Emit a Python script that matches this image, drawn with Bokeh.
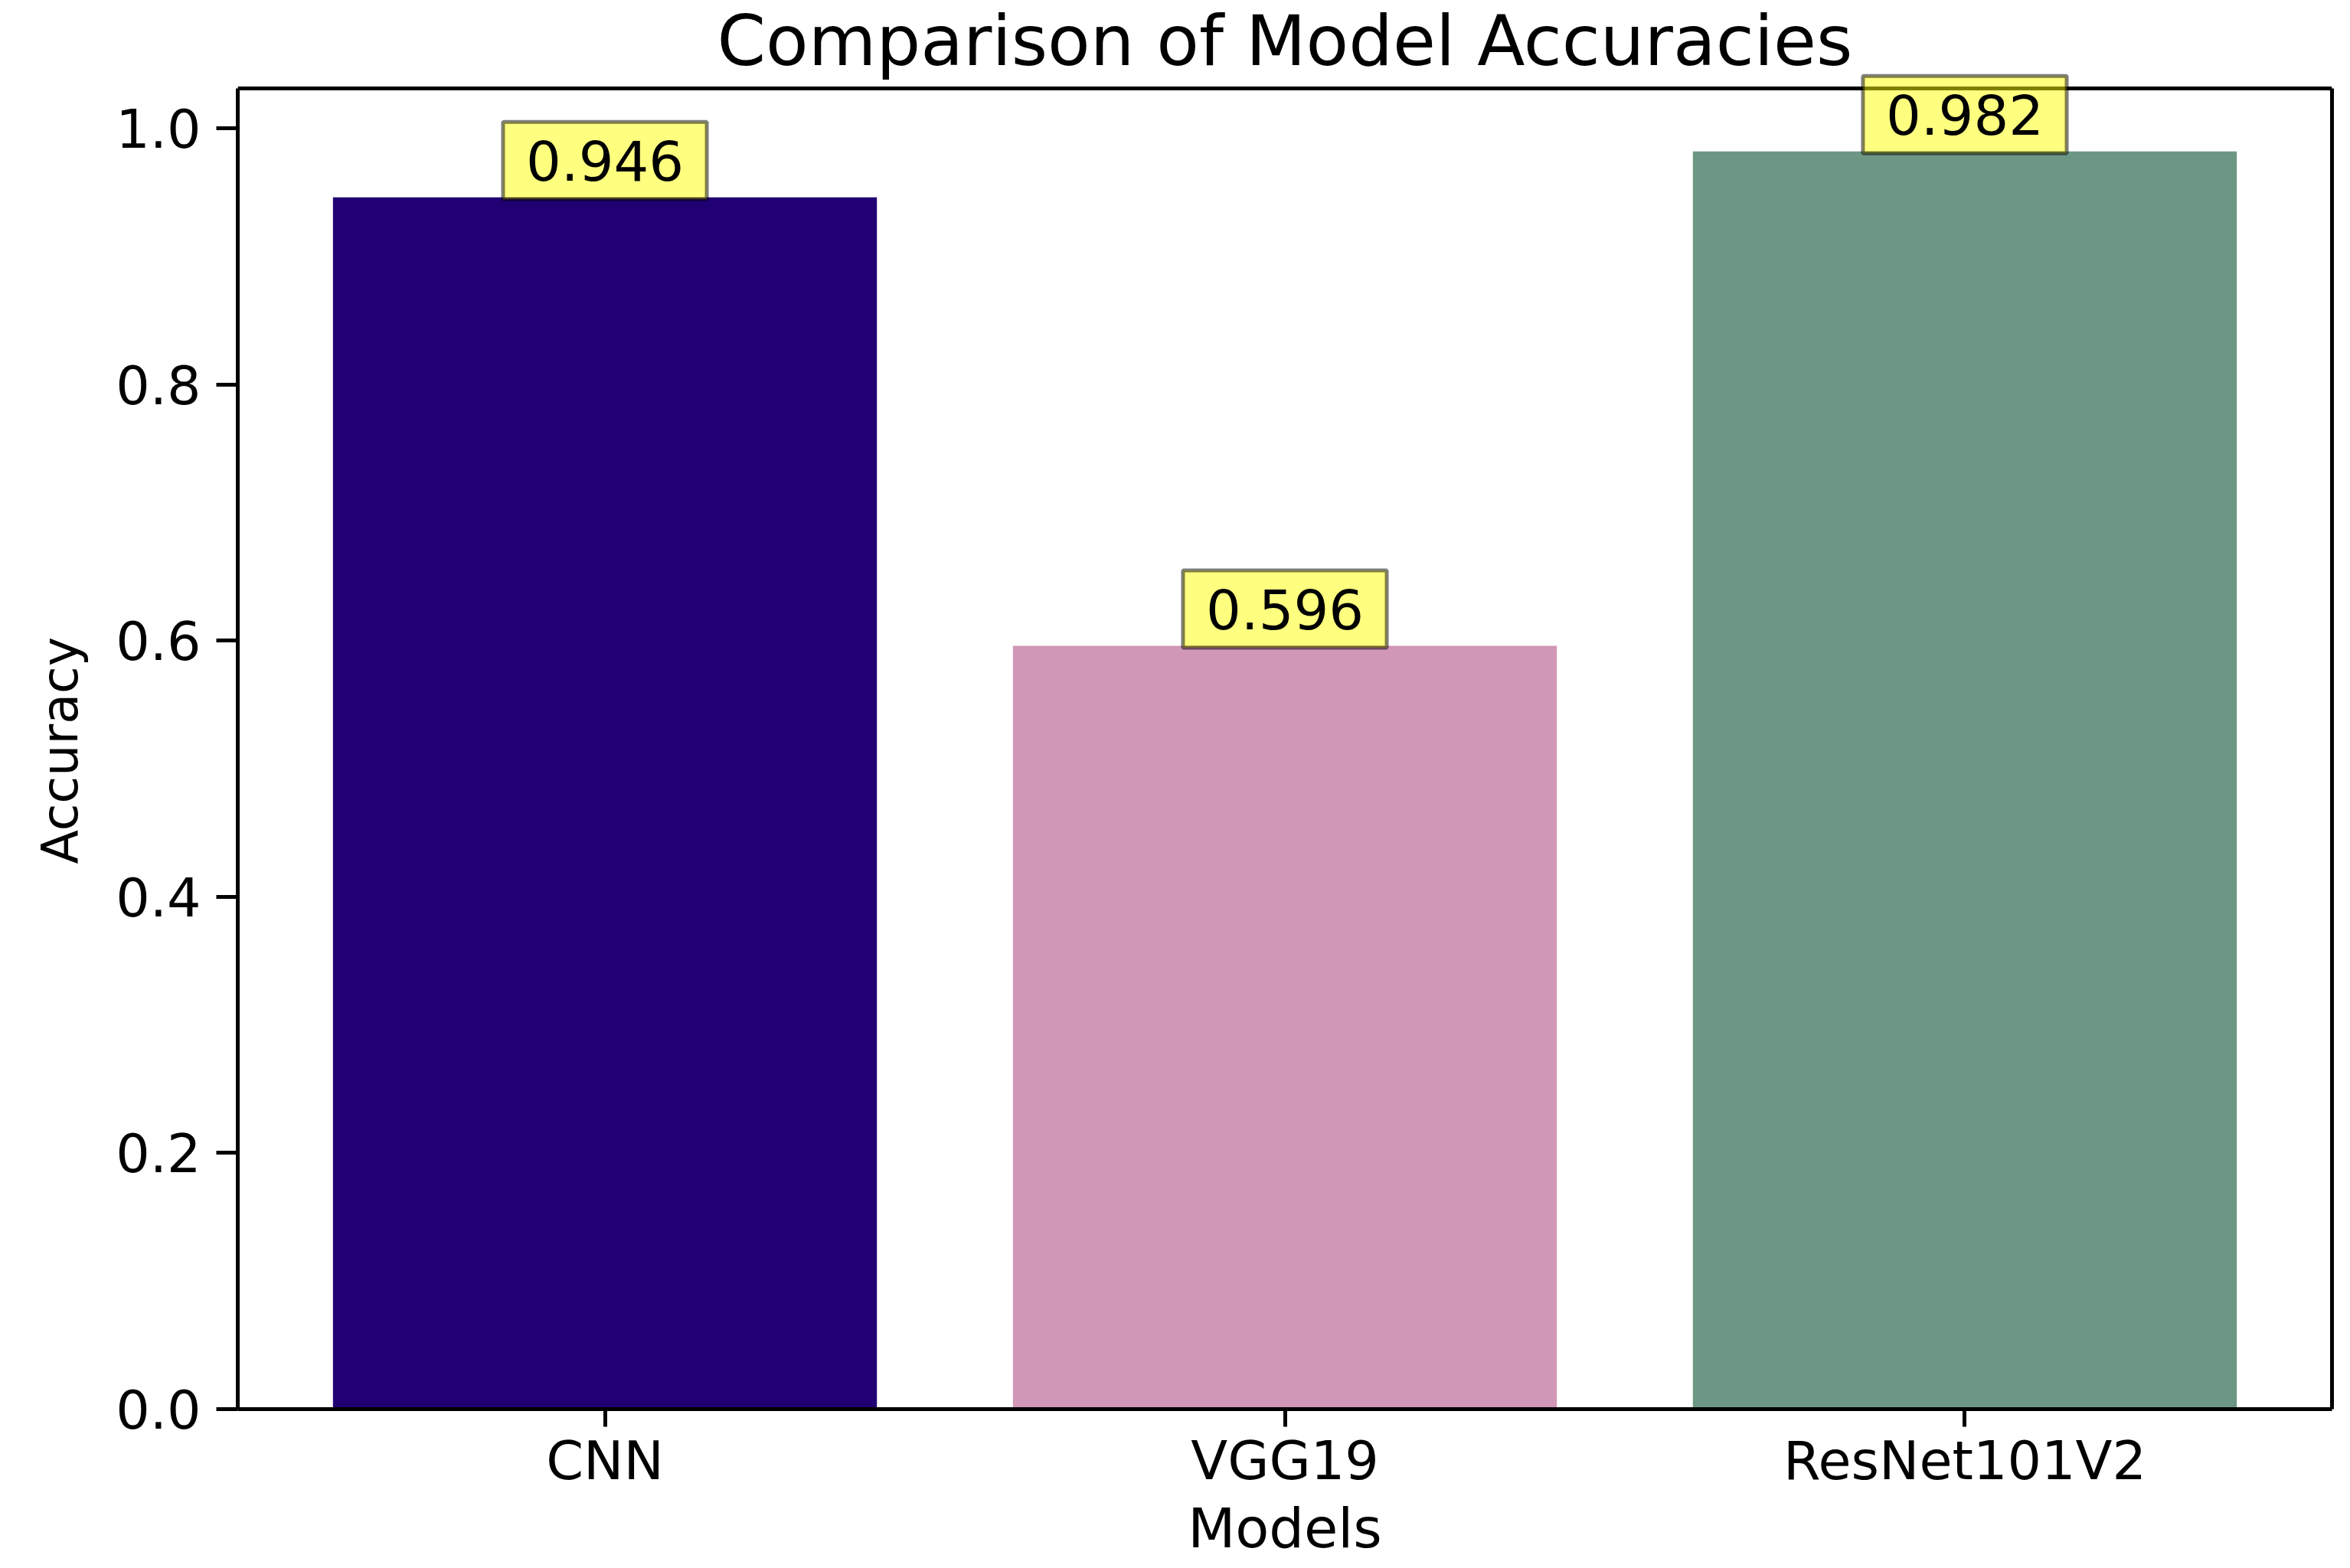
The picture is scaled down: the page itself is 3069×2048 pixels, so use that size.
from bokeh.plotting import figure
from bokeh.models import Range1d, FixedTicker, NumeralTickFormatter, Label, LinearAxis, Span, Title
from bokeh.embed import file_html
from bokeh.resources import INLINE

# ---- data ----
models = ["CNN", "VGG19", "ResNet101V2"]
accuracies = [0.946, 0.596, 0.982]
bar_colors = ["#200072", "#d197b6", "#6d9785"]
y_ticks = [0.0, 0.2, 0.4, 0.6, 0.8, 1.0]
title_text = "Comparison of Model Accuracies"
x_label = "Models"
y_label = "Accuracy"

FONT = "DejaVu Sans"
xs = list(range(len(models)))
y_top = max(accuracies) * 1.05          # matplotlib-style 5% headroom

# layout: the frame reaches the top of the canvas; the visible "box" ends at y_top,
# which sits TOP_GAP px below the canvas top (room for title / overflowing label)
W, H = 3060, 2048
BORDER_B, BORDER_L, BORDER_R = 208, 310, 15
TOP_GAP = 115
frame_h = H - BORDER_B
y_end = y_top * frame_h / (frame_h - TOP_GAP)

p = figure(
    width=W, height=H,
    output_backend="svg", toolbar_location=None,
    x_range=Range1d(-0.54, len(models) - 1 + 0.54),
    y_range=Range1d(0, y_end),
    min_border_left=BORDER_L, min_border_right=BORDER_R,
    min_border_top=0, min_border_bottom=BORDER_B,
)
p.background_fill_color = "white"
p.border_fill_color = "white"
p.xgrid.visible = False
p.ygrid.visible = False
p.outline_line_color = None

p.vbar(x=xs, top=accuracies, width=0.8, bottom=0, fill_color=bar_colors, line_color=None)

# x axis
p.xaxis.ticker = FixedTicker(ticks=xs)
p.xaxis.major_label_overrides = {i: m for i, m in zip(xs, models)}
p.xaxis.axis_label = x_label
p.xaxis.minor_tick_line_color = None
p.xaxis.major_tick_in = 0
p.xaxis.major_tick_out = 23
p.xaxis.major_tick_line_width = 5
p.xaxis.axis_line_width = 5
p.xaxis.major_label_standoff = 3
p.xaxis.axis_label_standoff = 2

# y axis (label drawn as a side title so it can be centred on the plot box)
p.yaxis.ticker = FixedTicker(ticks=y_ticks)
p.yaxis.formatter = NumeralTickFormatter(format="0.0")
p.yaxis.bounds = (0, y_top)
p.yaxis.minor_tick_line_color = None
p.yaxis.major_tick_in = 0
p.yaxis.major_tick_out = 28
p.yaxis.major_tick_line_width = 5
p.yaxis.axis_line_width = 5
p.yaxis.major_label_standoff = 20

for ax in (p.xaxis, p.yaxis):
    ax.major_label_text_font = FONT
    ax.major_label_text_font_size = "70px"
    ax.major_label_text_color = "black"
    ax.axis_label_text_font = FONT
    ax.axis_label_text_font_size = "72px"
    ax.axis_label_text_font_style = "normal"
    ax.axis_label_text_color = "black"
    ax.axis_line_color = "black"
    ax.major_tick_line_color = "black"

p.add_layout(Title(text=y_label, align="left", offset=712, standoff=66,
                   text_font=FONT, text_font_size="65px", text_font_style="normal",
                   text_color="black"), "left")

# right spine (axis without ticks) and top spine
right = LinearAxis(ticker=FixedTicker(ticks=[]), bounds=(0, y_top),
                   axis_line_color="black", axis_line_width=5,
                   major_tick_line_color=None, minor_tick_line_color=None)
p.add_layout(right, "right")
p.add_layout(Span(location=y_top, dimension="width", line_color="black", line_width=5))

# title, centred over the plot box
p.add_layout(Label(
    x=(len(models) - 1) / 2, y=y_top, text=title_text,
    text_align="center", text_baseline="middle", y_offset=62,
    text_font=FONT, text_font_size="91px", text_color="black",
))

# value labels in yellow boxes
for x, v in zip(xs, accuracies):
    p.add_layout(Label(
        x=x, y=v, text=f"{v:.3f}",
        text_align="center", text_baseline="middle",
        y_offset=48,
        text_font=FONT, text_font_size="72px", text_color="black",
        background_fill_color="yellow", background_fill_alpha=0.5,
        border_line_color="black", border_line_alpha=0.5, border_line_width=5,
        padding=dict(left=30, right=30, top=24, bottom=24),
    ))

open("out.html", "w").write(file_html(p, INLINE))
